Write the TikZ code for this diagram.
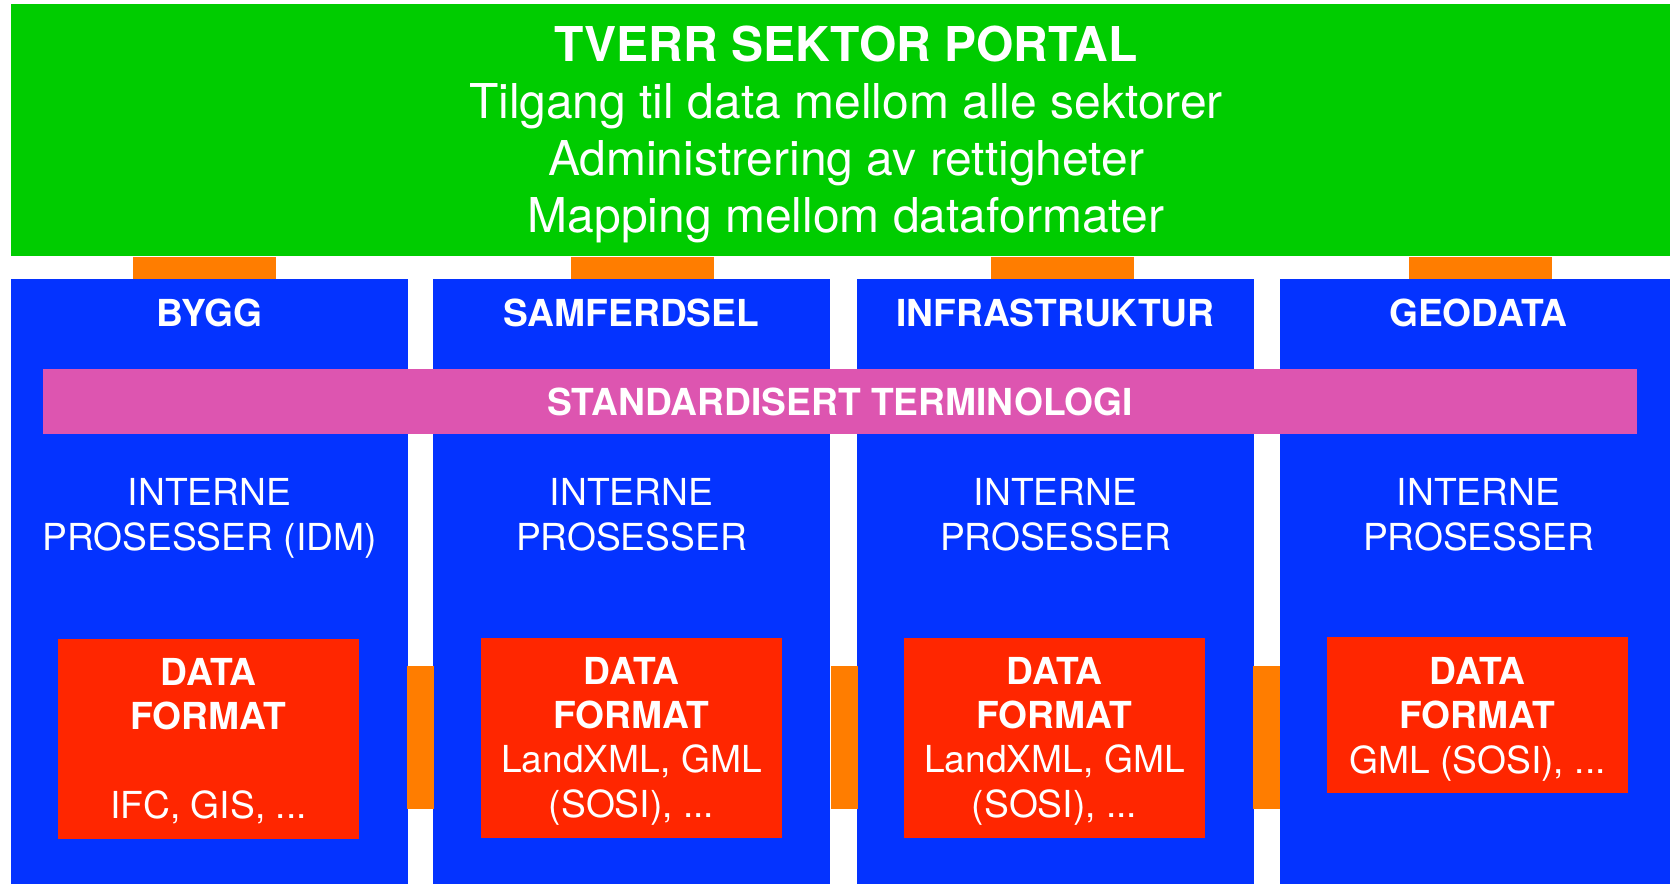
\documentclass[tikz,border=0pt]{standalone}
\usepackage{fontspec}
\setmainfont{TeX Gyre Heros}
\usepackage{xcolor}
\usetikzlibrary{calc, positioning}

\definecolor{portalgronn}{RGB}{0,204,0}
\definecolor{sektorbla}{RGB}{4,51,255}
\definecolor{formatrod}{RGB}{255,38,0}
\definecolor{koblingoransje}{RGB}{255,125,0}
\definecolor{termrosa}{RGB}{221,85,176}

\tikzset{
	felt/.style={inner sep=0pt, outer sep=0pt, anchor=north west},
	sektor/.style={felt, fill=sektorbla, minimum width=397pt, minimum height=605pt},
	format/.style={felt, fill=formatrod, minimum width=301pt, minimum height=200pt},
	kobling/.style={felt, fill=koblingoransje},
	topptapp/.style={kobling, minimum width=143pt, minimum height=22pt},
	sidetapp/.style={kobling, minimum width=27pt, minimum height=143pt},
	hvit/.style={text=white, inner sep=0pt, outer sep=0pt, anchor=base, align=center},
	stor/.style={hvit, font=\fontsize{48}{57}\selectfont},
	liten/.style={hvit, font=\fontsize{37.2}{44.3}\selectfont},
}

\begin{document}
\begin{tikzpicture}[x=1pt, y=-1pt]
		\useasboundingbox[fill=white] (0,0) rectangle (1670,884);

		\node[felt, fill=portalgronn, minimum width=1659pt, minimum height=252pt] (portal) at (11,4) {};

		\node[topptapp] (tappA) at (133,257) {};
		\node[topptapp] (tappB) at (571,257) {};
		\node[topptapp] (tappC) at (991,257) {};
		\node[topptapp] (tappD) at (1409,257) {};

		\node[sektor] (bygg) at (11,279) {};
		\node[sektor] (samferdsel) at (433,279) {};
		\node[sektor] (infrastruktur) at (857,279) {};
		\node[sektor] (geodata) at (1280,279) {};

		\node[felt, fill=termrosa, minimum width=1594pt, minimum height=65pt, text=white, font=\fontsize{37.2}{44}\selectfont\bfseries] (terminologi) at (43,369) {STANDARDISERT TERMINOLOGI};

		\node[format] (byggformat) at (58,639) {};
		\node[format] (samfformat) at (481,638) {};
		\node[format] (infraformat) at (904,638) {};
		\node[format, minimum height=156pt] (geoformat) at (1327,637) {};

		\node[sidetapp] (sideA) at (407,666) {};
		\node[sidetapp] (sideB) at (831,666) {};
		\node[sidetapp] (sideC) at (1253,666) {};

		\node[stor] (portaltekst) at ($(portal.north)+(5.5,228)$) {\textbf{TVERR SEKTOR PORTAL}\\Tilgang til data mellom alle sektorer\\Administrering av rettigheter\\Mapping mellom dataformater};

		\node[liten] (byggnavn) at ($(bygg.north)+(0,47)$) {\textbf{BYGG}};
		\node[liten] (samfnavn) at ($(samferdsel.north)+(0,47)$) {\textbf{SAMFERDSEL}};
		\node[liten] (infranavn) at ($(infrastruktur.north)+(0,47)$) {\textbf{INFRASTRUKTUR}};
		\node[liten] (geonavn) at ($(geodata.north)+(0,47)$) {\textbf{GEODATA}};

		\node[liten] (byggprosess) at ($(bygg.north)+(0,271)$) {INTERNE\\PROSESSER (IDM)};
		\node[liten] (samfprosess) at ($(samferdsel.north)+(0,271)$) {INTERNE\\PROSESSER};
		\node[liten] (infraprosess) at ($(infrastruktur.north)+(0,271)$) {INTERNE\\PROSESSER};
		\node[liten] (geoprosess) at ($(geodata.north)+(0,271)$) {INTERNE\\PROSESSER};

		\node[liten] (byggtekst) at ($(byggformat.north)+(0,179)$) {\textbf{DATA}\\\textbf{FORMAT}\\~\\IFC, GIS, ...};
		\node[liten] (samftekst) at ($(samfformat.north)+(0,179)$) {\textbf{DATA}\\\textbf{FORMAT}\\LandXML, GML\\(SOSI), ...};
		\node[liten] (infratekst) at ($(infraformat.north)+(0,179)$) {\textbf{DATA}\\\textbf{FORMAT}\\LandXML, GML\\(SOSI), ...};
		\node[liten] (geotekst) at ($(geoformat.north)+(0,136)$) {\textbf{DATA}\\\textbf{FORMAT}\\GML (SOSI), ...};
	\end{tikzpicture}
\end{document}
